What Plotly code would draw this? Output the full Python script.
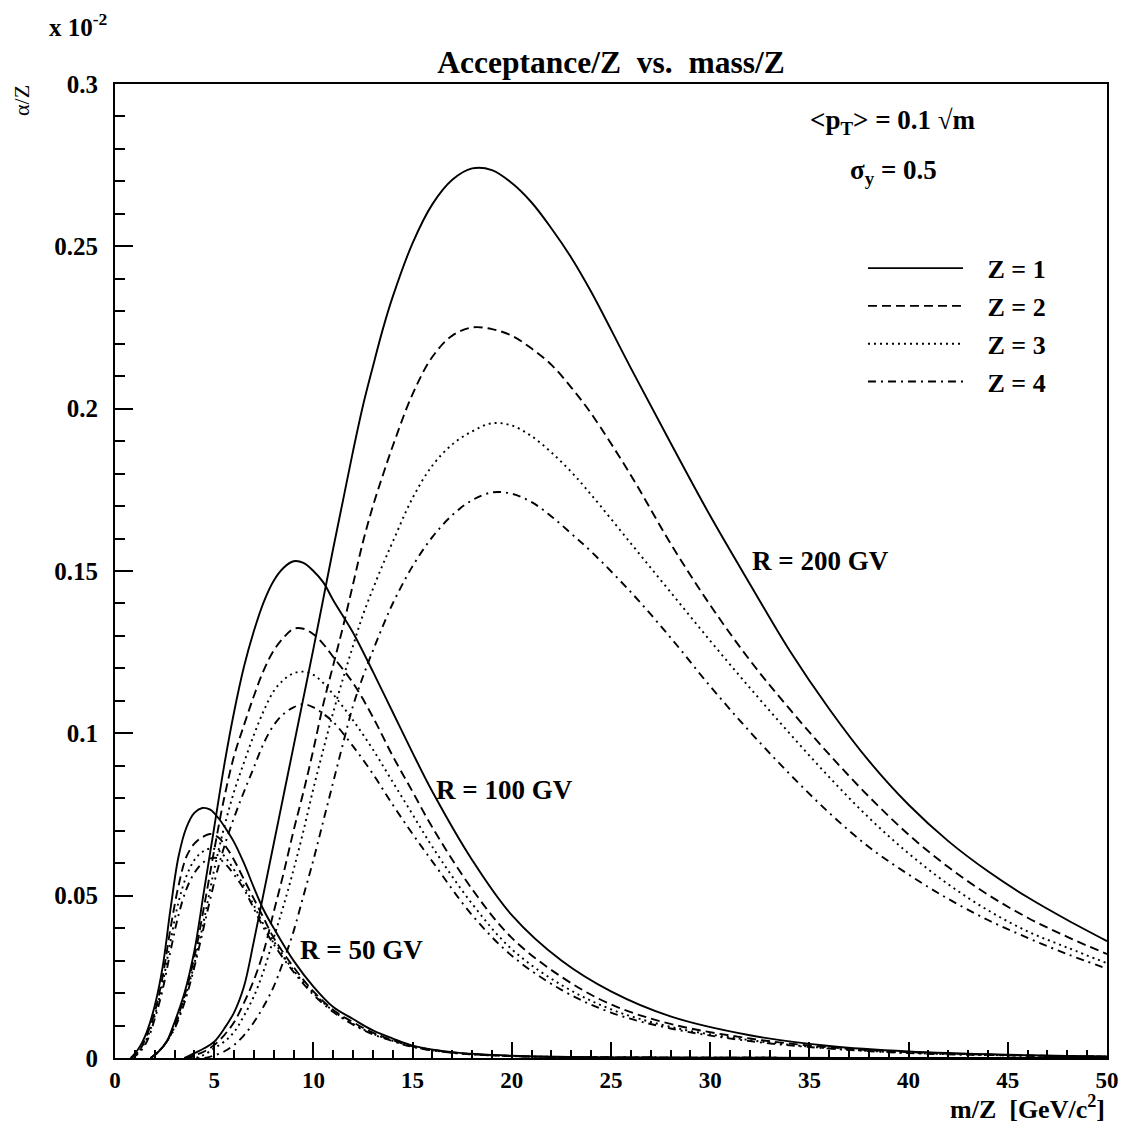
import plotly.graph_objects as go

# ---------------- data ----------------
x50 = [0.8, 1.2, 1.6, 2.0, 2.4, 2.8, 3.2, 3.6, 4.0, 4.4, 4.8, 5.2, 5.6, 6.0, 6.5, 7.0, 7.5, 8.0,
       9.0, 10, 11, 12, 13, 14, 15, 17, 20, 25, 30, 40, 50]
r50_z1 = [0, 0.003, 0.008, 0.016, 0.028, 0.046, 0.062, 0.071, 0.0755, 0.077, 0.0765, 0.074, 0.0705, 0.0665,
          0.060, 0.0525, 0.0455, 0.040, 0.030, 0.022, 0.0157, 0.012, 0.0085, 0.006, 0.0038, 0.0018, 0.0007,
          0.0002, 0.0001, 0, 0]
r50_z2 = [0, 0.002, 0.007, 0.014, 0.025, 0.040, 0.053, 0.062, 0.066, 0.068, 0.069, 0.068, 0.065, 0.061,
          0.055, 0.049, 0.043, 0.037, 0.028, 0.0205, 0.0148, 0.011, 0.0078, 0.0055, 0.0036, 0.0017, 0.0006,
          0.0002, 0.0001, 0, 0]
r50_z3 = [0, 0.002, 0.006, 0.013, 0.023, 0.036, 0.048, 0.056, 0.061, 0.0635, 0.0645, 0.064, 0.0615, 0.058,
          0.053, 0.047, 0.041, 0.036, 0.027, 0.020, 0.0145, 0.0105, 0.0075, 0.0053, 0.0035, 0.0016, 0.0006,
          0.0002, 0.0001, 0, 0]
r50_z4 = [0, 0.0015, 0.005, 0.012, 0.021, 0.033, 0.044, 0.052, 0.057, 0.060, 0.0615, 0.0615, 0.0595, 0.0565,
          0.052, 0.046, 0.040, 0.035, 0.0265, 0.0195, 0.0142, 0.0103, 0.0073, 0.0052, 0.0034, 0.0016, 0.0006,
          0.0002, 0.0001, 0, 0]

x100 = [1.8, 2.2, 2.6, 3.0, 3.5, 4.0, 4.5, 5.0, 5.5, 6.0, 6.5, 7.0, 7.5, 8.0, 8.5, 9.0, 9.5, 10.0, 10.5,
        11, 12, 13, 14, 15, 16, 18, 20, 22.5, 25, 28, 32, 36, 40, 45, 50]
r100_z1 = [0, 0.002, 0.005, 0.011, 0.020, 0.033, 0.052, 0.071, 0.090, 0.1065, 0.1205, 0.1315, 0.1405, 0.147,
           0.151, 0.153, 0.1525, 0.150, 0.1465, 0.141, 0.131, 0.119, 0.1065, 0.094, 0.082, 0.061, 0.044,
           0.030, 0.0205, 0.0128, 0.007, 0.0037, 0.002, 0.001, 0.0005]
r100_z2 = [0, 0.002, 0.005, 0.010, 0.019, 0.031, 0.047, 0.064, 0.080, 0.093, 0.1025, 0.1115, 0.1195, 0.1255,
           0.1295, 0.1322, 0.1322, 0.1305, 0.1275, 0.1235, 0.1155, 0.105, 0.093, 0.082, 0.071, 0.052, 0.037,
           0.025, 0.0165, 0.0105, 0.006, 0.0033, 0.0018, 0.0009, 0.0004]
r100_z3 = [0, 0.002, 0.005, 0.0095, 0.018, 0.029, 0.043, 0.058, 0.071, 0.082, 0.091, 0.0995, 0.107, 0.113,
           0.1165, 0.1185, 0.119, 0.118, 0.1155, 0.112, 0.104, 0.095, 0.085, 0.075, 0.065, 0.0475, 0.0335,
           0.0225, 0.015, 0.0096, 0.0055, 0.003, 0.0016, 0.0008, 0.0004]
r100_z4 = [0, 0.002, 0.005, 0.009, 0.017, 0.028, 0.041, 0.054, 0.065, 0.074, 0.082, 0.0895, 0.097, 0.1025,
           0.106, 0.108, 0.109, 0.108, 0.106, 0.1035, 0.096, 0.0875, 0.078, 0.069, 0.0605, 0.044, 0.0315,
           0.021, 0.014, 0.0091, 0.0052, 0.0029, 0.0015, 0.0008, 0.0004]

x200 = [3.5, 4.0, 4.5, 5.0, 5.5, 6.0, 6.5, 7.0, 7.5, 8.0, 8.5, 9.0, 9.5, 10, 10.5, 11, 11.5, 12, 12.5,
        13, 13.5, 14, 15, 16, 17, 18, 19, 20, 21, 22, 23, 24, 26, 28, 30, 32, 34, 36, 38, 40, 42, 44,
        46, 48, 50]
r200_z1 = [0, 0.0015, 0.003, 0.005, 0.009, 0.014, 0.022, 0.036, 0.051, 0.066, 0.081, 0.096, 0.111, 0.126,
           0.1415, 0.157, 0.172, 0.187, 0.201, 0.213, 0.2245, 0.2345, 0.251, 0.263, 0.2705, 0.274, 0.2735,
           0.2695, 0.2635, 0.2555, 0.2465, 0.236, 0.2125, 0.1895, 0.167, 0.146, 0.1255, 0.1075, 0.0915,
           0.078, 0.0668, 0.0575, 0.0495, 0.0425, 0.036]
r200_z2 = [0, 0.0008, 0.002, 0.004, 0.007, 0.011, 0.017, 0.024, 0.033, 0.045, 0.057, 0.070, 0.082, 0.095,
           0.109, 0.121, 0.133, 0.146, 0.159, 0.170, 0.1795, 0.1885, 0.2045, 0.216, 0.2225, 0.225, 0.2245,
           0.2225, 0.2185, 0.2135, 0.2065, 0.1985, 0.1795, 0.1585, 0.1395, 0.1225, 0.1075, 0.0935, 0.0805,
           0.0688, 0.0588, 0.0503, 0.0432, 0.0373, 0.032]
r200_z3 = [0, 0, 0.001, 0.003, 0.005, 0.008, 0.013, 0.019, 0.027, 0.037, 0.047, 0.058, 0.070, 0.083,
           0.095, 0.1065, 0.117, 0.127, 0.1365, 0.1445, 0.152, 0.159, 0.1725, 0.1825, 0.189, 0.193, 0.1955,
           0.1948, 0.1915, 0.1865, 0.1805, 0.1735, 0.1585, 0.1435, 0.1285, 0.114, 0.1, 0.0865, 0.074, 0.063,
           0.0535, 0.0455, 0.039, 0.034, 0.0292]
r200_z4 = [0, 0, 0, 0.0008, 0.002, 0.004, 0.007, 0.011, 0.016, 0.022, 0.030, 0.039, 0.050, 0.061,
           0.073, 0.085, 0.097, 0.1085, 0.1175, 0.1255, 0.133, 0.140, 0.1515, 0.1605, 0.1672, 0.1718, 0.1742,
           0.1738, 0.1712, 0.1668, 0.1615, 0.156, 0.1435, 0.1295, 0.1145, 0.1005, 0.0875, 0.0755, 0.065,
           0.0565, 0.049, 0.0425, 0.037, 0.032, 0.0275]

z_names = ["Z = 1", "Z = 2", "Z = 3", "Z = 4"]
curve_labels = ["R = 200 GV", "R = 100 GV", "R = 50 GV"]
label_pos_x = [32.0, 16.1, 9.2]
label_pos_y = [0.153, 0.0825, 0.0333]

# ---------------- figure ----------------
SERIF = "Liberation Serif"
dashes = ["solid", "9px,5px", "2px,4px", "8px,5px,2px,5px"]

groups = [
    (x200, [r200_z1, r200_z2, r200_z3, r200_z4], True),
    (x100, [r100_z1, r100_z2, r100_z3, r100_z4], False),
    (x50, [r50_z1, r50_z2, r50_z3, r50_z4], False),
]

fig = go.Figure()
for xs, ys_list, show in groups:
    for i, ys in enumerate(ys_list):
        fig.add_trace(go.Scatter(
            x=xs, y=ys, mode="lines",
            name="&nbsp;&nbsp;&nbsp;" + z_names[i], legendgroup=z_names[i], showlegend=show,
            line=dict(color="black", width=1.9, dash=dashes[i], shape="spline", smoothing=1.0),
            hoverinfo="skip",
        ))

W, H = 1115, 1115
fig.update_layout(
    width=W, height=H,
    margin=dict(l=107, r=16, t=76, b=65),
    paper_bgcolor="white", plot_bgcolor="white",
    font=dict(family=SERIF, color="black", size=22),
    title=dict(text="<b>Acceptance/Z  vs.  mass/Z</b>", x=0.5, xanchor="center", xref="paper",
               y=1 - 54 / H, yref="container", yanchor="middle",
               font=dict(size=31.5, family=SERIF)),
    legend=dict(x=0.754, y=0.835, xanchor="left", yanchor="top",
                bgcolor="rgba(0,0,0,0)", borderwidth=0,
                itemwidth=95, tracegroupgap=1,
                font=dict(size=26, family=SERIF, weight="bold")),
    showlegend=True,
)

axis_common = dict(
    showgrid=False, zeroline=False, showline=True, linecolor="black", linewidth=2,
    mirror=True, ticks="inside", tickcolor="black", tickwidth=1.5, automargin=False,
)
fig.update_xaxes(range=[0, 50], dtick=5, tick0=0, ticklen=16,
                 tickfont=dict(size=23, family=SERIF, weight="bold"),
                 minor=dict(dtick=1, ticks="inside", ticklen=8, tickcolor="black", tickwidth=1.5),
                 **axis_common)
fig.update_yaxes(range=[0, 0.3], dtick=0.05, tick0=0, ticklen=18,
                 tickfont=dict(size=25, family=SERIF, weight="bold"), ticklabelstandoff=10,
                 minor=dict(dtick=0.01, ticks="inside", ticklen=10, tickcolor="black", tickwidth=1.5),
                 **axis_common)

# curve labels
for t, lx, ly in zip(curve_labels, label_pos_x, label_pos_y):
    fig.add_annotation(x=lx, y=ly, xref="x", yref="y", text="<b>" + t + "</b>",
                       showarrow=False, xanchor="left", yanchor="middle",
                       font=dict(size=27, family=SERIF))

# text inside the frame
fig.add_annotation(x=0.6986, y=0.961, xref="paper", yref="paper",
                   text="<b>&lt;p<sub>T</sub>&gt; = 0.1 √m</b>", showarrow=False,
                   xanchor="left", yanchor="middle", font=dict(size=27, family=SERIF))
fig.add_annotation(x=0.739, y=0.910, xref="paper", yref="paper",
                   text="<b>σ<sub>y</sub> = 0.5</b>", showarrow=False,
                   xanchor="left", yanchor="middle", font=dict(size=27, family=SERIF))

# axis titles / multiplier
fig.add_annotation(x=1.0, y=-0.0513, xref="paper", yref="paper",
                   text="<b>m/Z  [GeV/c<sup>2</sup>]</b>", showarrow=False,
                   xanchor="right", yanchor="middle", font=dict(size=26, family=SERIF))
fig.add_annotation(x=-0.0938, y=0.9836, xref="paper", yref="paper",
                   text="α/Z", textangle=-90, showarrow=False,
                   xanchor="center", yanchor="middle", font=dict(size=22, family=SERIF))
fig.add_annotation(x=-0.0685, y=1.061, xref="paper", yref="paper",
                   text="<b>x 10<sup>-2</sup></b>", showarrow=False,
                   xanchor="left", yanchor="middle", font=dict(size=25, family=SERIF))

fig.write_html("out.html")
